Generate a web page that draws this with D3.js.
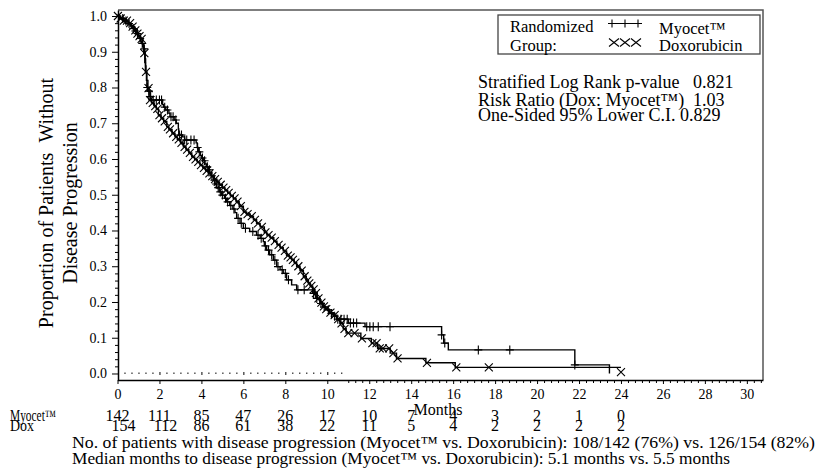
<!DOCTYPE html>
<html><head><meta charset="utf-8">
<script src="https://cdn.jsdelivr.net/npm/d3@7"></script>
</head>
<body style="margin:0"><svg id="chart" width="818" height="473" font-family="Liberation Serif"></svg>
<script>
// ---------- DATA ----------
const xTickValues = [0,2,4,6,8,10,12,14,16,18,20,22,24,26,28,30];
const yTickValues = [0,0.1,0.2,0.3,0.4,0.5,0.6,0.7,0.8,0.9,1.0];
const riskTimes = [0,2,4,6,8,10,12,14,16,18,20,22,24];
const riskMyocet = [142,111,85,47,26,17,10,7,4,3,2,1,0];
const riskDox = [154,112,86,61,38,22,11,5,4,2,2,2,2];

// Kaplan-Meier steps: [month, proportion after step]
const myocetSteps = [[0,1.0],[0.15,0.993],[0.3,0.986],[0.45,0.979],[0.6,0.972],[0.7,0.965],[0.8,0.958],[0.9,0.951],[1.0,0.944],[1.05,0.937],[1.1,0.93],[1.15,0.923],[1.2,0.915],[1.25,0.908],[1.3,0.901],[1.32,0.88],[1.34,0.86],[1.36,0.84],[1.38,0.82],[1.4,0.8],[1.45,0.79],[1.55,0.775],[1.6,0.765],[2.15,0.752],[2.2,0.745],[2.3,0.737],[2.45,0.728],[2.5,0.718],[2.7,0.709],[2.8,0.7],[2.9,0.684],[2.92,0.667],[3.1,0.662],[3.2,0.653],[3.75,0.645],[3.8,0.632],[3.85,0.62],[3.95,0.61],[4.0,0.603],[4.1,0.595],[4.17,0.586],[4.25,0.578],[4.33,0.57],[4.4,0.562],[4.49,0.553],[4.57,0.541],[4.65,0.53],[4.73,0.52],[4.85,0.508],[4.95,0.499],[5.1,0.49],[5.2,0.48],[5.35,0.47],[5.5,0.46],[5.6,0.45],[5.68,0.434],[5.84,0.42],[6.0,0.406],[6.3,0.397],[6.63,0.387],[6.8,0.378],[6.95,0.369],[7.0,0.357],[7.11,0.345],[7.25,0.332],[7.43,0.317],[7.59,0.299],[7.75,0.29],[7.9,0.28],[8.06,0.262],[8.3,0.248],[8.54,0.234],[9.3,0.224],[9.45,0.21],[9.65,0.196],[9.8,0.186],[10.0,0.178],[10.13,0.168],[10.3,0.16],[10.45,0.152],[11.0,0.141],[11.8,0.131],[15.45,0.108],[15.55,0.085],[15.77,0.066],[21.8,0.024],[23.45,0.0]];
const myocetCensor = [0.25,0.4,0.55,0.75,0.85,0.95,1.08,1.18,1.28,1.42,1.5,1.58,1.7,1.85,2.0,2.1,2.25,2.38,2.55,2.65,2.78,2.95,3.05,3.2,3.3,3.5,3.65,3.82,3.9,4.05,4.15,4.28,4.38,4.5,4.62,4.7,4.8,4.9,5.0,5.15,5.25,5.4,5.55,5.75,5.9,6.1,6.45,6.7,6.85,7.05,7.2,7.35,7.5,7.65,7.85,8.0,8.15,8.6,8.9,9.35,9.5,9.7,9.85,10.05,10.2,10.35,10.5,10.65,10.8,10.95,11.1,11.25,11.4,11.88,12.03,12.19,12.43,12.99,15.45,15.6,17.2,18.7,21.8];

const doxSteps = [[0,1.0],[0.1,0.993],[0.3,0.987],[0.5,0.98],[0.65,0.97],[0.8,0.96],[0.9,0.951],[1.0,0.944],[1.1,0.936],[1.2,0.92],[1.25,0.896],[1.3,0.87],[1.33,0.844],[1.4,0.82],[1.45,0.798],[1.5,0.765],[1.62,0.757],[1.75,0.748],[1.85,0.74],[1.95,0.723],[2.08,0.714],[2.2,0.705],[2.35,0.69],[2.45,0.683],[2.6,0.672],[2.74,0.662],[2.85,0.655],[3.0,0.645],[3.14,0.634],[3.27,0.626],[3.4,0.617],[3.54,0.606],[3.68,0.599],[3.8,0.592],[3.93,0.583],[4.07,0.575],[4.2,0.567],[4.33,0.56],[4.46,0.552],[4.6,0.544],[4.73,0.536],[4.86,0.528],[5.0,0.52],[5.12,0.513],[5.25,0.505],[5.38,0.497],[5.52,0.49],[5.65,0.481],[5.8,0.468],[6.0,0.452],[6.15,0.446],[6.32,0.44],[6.48,0.43],[6.63,0.42],[6.8,0.41],[7.0,0.395],[7.12,0.387],[7.27,0.38],[7.45,0.37],[7.6,0.36],[7.75,0.352],[7.9,0.343],[8.06,0.33],[8.2,0.325],[8.3,0.318],[8.42,0.31],[8.54,0.3],[8.7,0.288],[8.86,0.272],[9.0,0.26],[9.1,0.252],[9.18,0.245],[9.3,0.235],[9.4,0.225],[9.52,0.21],[9.65,0.198],[9.78,0.188],[9.9,0.18],[10.1,0.17],[10.29,0.163],[10.45,0.152],[10.6,0.14],[10.76,0.125],[10.9,0.113],[11.6,0.098],[12.1,0.085],[12.4,0.07],[13.0,0.057],[13.3,0.042],[14.7,0.03],[16.1,0.017],[24.0,0.017]];
const doxCensor = [0.02,0.15,0.3,0.45,0.6,0.72,0.85,0.95,1.05,1.15,1.28,1.36,1.48,1.55,1.68,1.8,1.9,2.0,2.12,2.25,2.4,2.5,2.65,2.8,2.92,3.05,3.2,3.32,3.45,3.6,3.72,3.85,3.98,4.12,4.25,4.38,4.52,4.65,4.78,4.92,5.05,5.18,5.3,5.45,5.58,5.72,5.88,6.05,6.2,6.4,6.55,6.7,6.88,7.05,7.2,7.35,7.5,7.68,7.82,7.98,8.12,8.25,8.36,8.48,8.62,8.78,8.92,9.05,9.14,9.24,9.35,9.46,9.58,9.72,9.84,9.95,10.15,10.35,10.52,10.68,10.82,11.0,11.3,11.65,12.15,12.35,12.5,12.65,12.95,13.15,13.35,14.75,16.15,17.7];
const doxExtraMarks = [[24.0,0.004]];

const statLines = ["Stratified Log Rank p-value \u00A0 0.821","Risk Ratio (Dox: Myocet\u2122) \u00A01.03","One-Sided 95% Lower C.I. 0.829"];
const footLines = ["No. of patients with disease progression (Myocet\u2122 vs. Doxorubicin): 108/142 (76%) vs. 126/154 (82%)","Median months to disease progression (Myocet\u2122 vs. Doxorubicin): 5.1 months vs. 5.5 months"];

// ---------- CHART ----------
const svg = d3.select("#chart");
svg.append("rect").attr("width",818).attr("height",473).attr("fill","#fff");
function txt(sel, size){ return sel.style("font-family",'"Liberation Serif"').style("font-size",size+"px"); }

const x = d3.scaleLinear().domain([0, 30.77]).range([117.5, 763]);
const y = d3.scaleLinear().domain([-0.0182, 1.0168]).range([380, 10]);

// frame top/right
svg.append("path").attr("d",`M118,10H763V380`).attr("fill","none").attr("stroke","#555").attr("stroke-width",1.5);

// y axis
const yAx = svg.append("g").attr("transform","translate(118,0)")
  .call(d3.axisLeft(y).tickValues(yTickValues).tickFormat(d3.format(".1f")).tickSize(6).tickSizeOuter(0).tickPadding(5));
yAx.select(".domain").attr("stroke","#000").attr("stroke-width",1.5);
const yMinor = d3.range(0, 51).map(i => i*0.02).filter(v => Math.abs(v*10 - Math.round(v*10))>1e-6);
svg.append("g").attr("transform","translate(118,0)")
  .call(d3.axisLeft(y).tickValues(yMinor).tickSize(3).tickFormat(""))
  .call(g=>g.select(".domain").remove());

// x axis
const xAx = svg.append("g").attr("transform","translate(0,380)")
  .call(d3.axisBottom(x).tickValues(xTickValues).tickSize(4).tickSizeOuter(0).tickPadding(5));
xAx.select(".domain").attr("stroke","#000").attr("stroke-width",1.5);
const xMinorAll = d3.range(1, 93).map(i => i/3).filter(v => Math.abs(v/2 - Math.round(v/2))>1e-6);
svg.append("g").attr("transform","translate(0,380)")
  .call(d3.axisBottom(x).tickValues(xMinorAll.filter(v=>v>10.7)).tickSize(3).tickFormat(""))
  .call(g=>g.select(".domain").remove());
// dotted reference marks at 0.0 level
svg.append("g").attr("transform",`translate(0,${y(0)-1})`)
  .call(d3.axisBottom(x).tickValues(xMinorAll.filter(v=>v>0.3 && v<10.7)).tickSize(1.5).tickFormat(""))
  .call(g=>g.select(".domain").remove());
svg.append("g").attr("transform",`translate(0,${y(0)-1.5})`)
  .call(d3.axisBottom(x).tickValues([2,4,6,8,10]).tickSize(3).tickFormat(""))
  .call(g=>g.select(".domain").remove());
// strip d3's default sans-serif and empty tick texts
svg.selectAll("g").attr("font-family", null).attr("font-size", null);
svg.selectAll("g.tick text").filter(function(){ return this.textContent===""; }).remove();
txt(yAx.selectAll("text"), 14);
txt(xAx.selectAll("text"), 14);

// curves
const line = d3.line().x(d=>x(d[0])).y(d=>y(d[1])).curve(d3.curveStepAfter);
svg.append("path").datum(doxSteps).attr("d",line).attr("fill","none").attr("stroke","#000").attr("stroke-width",1.4);
svg.append("path").datum(myocetSteps).attr("d",line).attr("fill","none").attr("stroke","#000").attr("stroke-width",1.4);

function stepVal(steps, t){ let v = steps[0][1]; for(const s of steps){ if(s[0]<=t) v=s[1]; else break; } return v; }

const plusG = svg.append("g").attr("stroke","#000").attr("stroke-width",1.1).attr("fill","none");
myocetCensor.forEach(t=>{
  const px=x(t), py=y(stepVal(myocetSteps,t));
  plusG.append("path").attr("d",`M${px-4},${py}H${px+4}M${px},${py-4.5}V${py+4.5}`);
});
const crossG = svg.append("g").attr("stroke","#000").attr("stroke-width",1.1).attr("fill","none");
doxCensor.map(t=>[t, stepVal(doxSteps,t)]).concat(doxExtraMarks).forEach(d=>{
  const px=x(d[0]), py=y(d[1]);
  crossG.append("path").attr("d",`M${px-4},${py-4}L${px+4},${py+4}M${px-4},${py+4}L${px+4},${py-4}`);
});

// legend
svg.append("rect").attr("x",498).attr("y",15).attr("width",262).attr("height",39).attr("fill","#fff").attr("stroke","#444").attr("stroke-width",1.3);
txt(svg.append("text").attr("x",510).attr("y",32), 16.5).text("Randomized");
txt(svg.append("text").attr("x",510).attr("y",51), 16.5).text("Group:");
txt(svg.append("text").attr("x",659).attr("y",34), 16.5).text("Myocet\u2122");
txt(svg.append("text").attr("x",659).attr("y",51), 16.5).text("Doxorubicin");
const lg = svg.append("g").attr("stroke","#000").attr("stroke-width",1.1).attr("fill","none");
lg.append("path").attr("d","M608,23.5H642");
[612,625,638].forEach(px=>lg.append("path").attr("d",`M${px},19.5V27.5`));
[614,625,636].forEach(px=>lg.append("path").attr("d",`M${px-5},${38.5}L${px+5},${46.5}M${px-5},${46.5}L${px+5},${38.5}`));

// stats
[88,106,121].forEach((by,i)=>txt(svg.append("text").attr("x",478).attr("y",by), 18).text(statLines[i]));

// axis titles
txt(svg.append("text").attr("transform","translate(53,203) rotate(-90)").attr("text-anchor","middle"), 20).text("Proportion of Patients \u00A0Without");
txt(svg.append("text").attr("transform","translate(77,203) rotate(-90)").attr("text-anchor","middle"), 20).text("Disease Progression");
txt(svg.append("text").attr("x",438).attr("y",415).attr("text-anchor","middle"), 16).text("Months");

// risk table
txt(svg.append("text").attr("x",10).attr("y",421), 16).attr("textLength",46).attr("lengthAdjust","spacingAndGlyphs").text("Myocet\u2122");
txt(svg.append("text").attr("x",10).attr("y",431), 16).attr("textLength",24).attr("lengthAdjust","spacingAndGlyphs").text("Dox");
riskTimes.forEach((t,i)=>{
  txt(svg.append("text").attr("x",x(t)).attr("y",421).attr("text-anchor","middle"), 16).text(riskMyocet[i]);
  txt(svg.append("text").attr("x",x(t)+(i<2?6:0)).attr("y",431).attr("text-anchor","middle"), 16).text(riskDox[i]);
});

// footnotes
txt(svg.append("text").attr("x",72).attr("y",448), 16.5).attr("textLength",743).attr("lengthAdjust","spacingAndGlyphs").text(footLines[0]);
txt(svg.append("text").attr("x",72).attr("y",464), 16.5).attr("textLength",658).attr("lengthAdjust","spacingAndGlyphs").text(footLines[1]);
</script></body></html>
